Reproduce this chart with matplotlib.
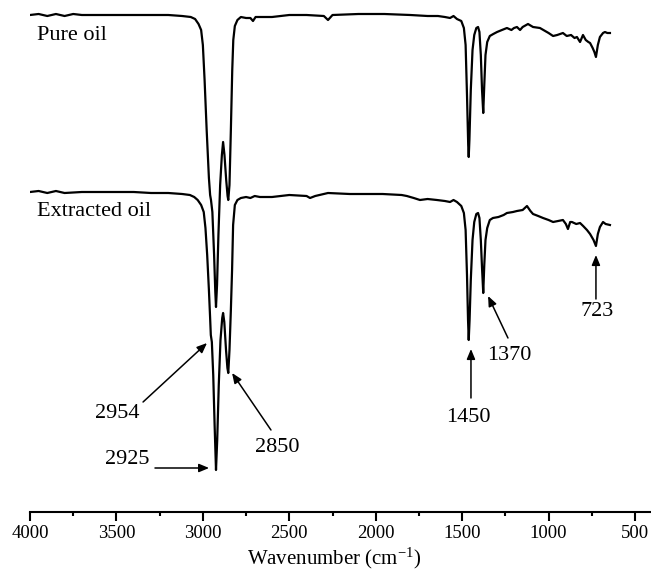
import matplotlib
matplotlib.use("Agg")
import matplotlib.pyplot as plt
from matplotlib.ticker import MultipleLocator

plt.rcParams["font.family"] = "serif"
plt.rcParams["font.serif"] = ["Liberation Serif", "DejaVu Serif"]
plt.rcParams["mathtext.fontset"] = "stix"

# FTIR spectra, transmittance in arbitrary units (traces are offset)
pure_wn = [4000, 3950, 3900, 3850, 3800, 3750, 3700, 3600, 3500, 3400, 3300, 3200,
           3120, 3070, 3045, 3025, 3010, 3000, 2990, 2978, 2965, 2958, 2953, 2945,
           2935, 2928, 2924, 2918, 2910, 2900, 2890, 2883, 2875, 2865, 2857, 2853,
           2846, 2838, 2830, 2824, 2815, 2800, 2780, 2750, 2725, 2710, 2695, 2600,
           2500, 2400, 2300, 2276, 2250, 2100, 1950, 1800, 1700, 1640, 1600, 1570,
           1550, 1530, 1505, 1490, 1480, 1472, 1465, 1462, 1458, 1450, 1440, 1430,
           1418, 1408, 1400, 1392, 1385, 1378, 1372, 1365, 1355, 1340, 1320, 1298,
           1270, 1241, 1215, 1200, 1183, 1165, 1150, 1119, 1090, 1050, 1020, 1000,
           974, 950, 917, 895, 870, 850, 836, 818, 801, 785, 770, 760, 745, 735,
           726, 715, 703, 685, 674, 660, 645]
pure_t = [497, 498, 496, 498, 496, 498, 497, 497, 497, 497, 497, 497,
          496, 495, 493, 488, 482, 467, 432, 382, 334, 317, 312, 300,
          257, 220, 205, 227, 277, 327, 357, 370, 357, 332, 316, 312,
          327, 382, 442, 472, 486, 492, 495, 494, 494, 491, 495, 495,
          497, 497, 496, 492, 497, 498, 498, 497, 496, 496, 495, 494,
          496, 493, 491, 484, 467, 417, 367, 355, 372, 422, 462, 477,
          484, 485, 480, 457, 422, 399, 427, 457, 470, 476, 478, 480,
          482, 484, 482, 484, 485, 482, 485, 488, 485, 484, 481, 479,
          476, 477, 479, 476, 477, 474, 475, 470, 477, 472, 470, 469, 464, 460,
          455, 467, 475, 479, 480, 479, 479]

extr_wn = [4000, 3950, 3900, 3850, 3800, 3700, 3600, 3500, 3400, 3300, 3200, 3120,
           3075, 3050, 3030, 3010, 2995, 2985, 2975, 2965, 2958, 2954, 2948, 2940,
           2932, 2924, 2917, 2908, 2898, 2888, 2883, 2876, 2866, 2858, 2853, 2846,
           2838, 2831, 2825, 2815, 2800, 2780, 2750, 2725, 2700, 2670, 2600, 2500,
           2400, 2380, 2350, 2276, 2150, 1960, 1850, 1820, 1780, 1744, 1700, 1646,
           1600, 1570, 1550, 1530, 1505, 1490, 1480, 1472, 1466, 1462, 1457, 1450,
           1440, 1430, 1418, 1408, 1400, 1392, 1385, 1378, 1372, 1365, 1355, 1340,
           1322, 1290, 1260, 1241, 1206, 1183, 1150, 1125, 1105, 1090, 1060, 1032,
           1000, 974, 945, 917, 900, 888, 875, 865, 840, 818, 800, 778, 760, 740,
           726, 715, 703, 685, 670, 645]
extr_t = [320, 321, 319, 321, 319, 320, 320, 320, 320, 319, 319, 318,
          317, 315, 312, 307, 300, 284, 257, 222, 194, 177, 170, 137,
          87, 42, 72, 127, 172, 194, 199, 190, 162, 144, 139, 162,
          202, 242, 287, 307, 312, 314, 315, 314, 316, 315, 315, 317,
          316, 314, 316, 319, 318, 318, 317, 316, 314, 312, 313, 312,
          311, 310, 312, 310, 306, 299, 282, 237, 192, 172, 192, 232,
          272, 290, 298, 299, 294, 272, 244, 219, 247, 272, 284, 292,
          294, 295, 297, 299, 300, 301, 302, 306, 301, 298, 296, 294,
          292, 290, 291, 292, 288, 283, 290, 290, 288, 289, 286, 282, 278, 272,
          266, 278, 285, 290, 288, 287]

peak_labels = ["2954", "2925", "2850", "1450", "1370", "723"]

fig = plt.figure(figsize=(6.51, 5.72), dpi=100)
ax = fig.add_axes([30 / 651, 60 / 572, 622.3 / 651, 512 / 572])

ax.plot(pure_wn, pure_t, color="black", lw=1.6)
ax.plot(extr_wn, extr_t, color="black", lw=1.6)

ax.set_xlim(4000, 400)
ax.set_ylim(0, 512)

ax.text(3960, 477, "Pure oil", fontsize=16, ha="left", va="center")
ax.text(3960, 301, "Extracted oil", fontsize=16, ha="left", va="center")

# label position, arrow start, arrow tip
spots = [
    ((3497, 99), (3346, 110), (2976, 169)),
    ((3439, 53), (3277, 44), (2964, 44)),
    ((2571, 65), (2606, 82), (2831, 139)),
    ((1466, 95), (1449, 114), (1449, 163)),
    ((1229, 157), (1235, 174), (1350, 216)),
    ((720, 200), (726, 213), (726, 257)),
]
for lab, (txt, start, tip) in zip(peak_labels, spots):
    ax.text(txt[0], txt[1], lab, fontsize=16, ha="center", va="center")
    ax.annotate("", xy=tip, xytext=start,
                arrowprops=dict(arrowstyle="-|>,head_length=0.6,head_width=0.25",
                                color="black", lw=1.1, mutation_scale=10,
                                shrinkA=0, shrinkB=0))

for s in ["top", "left", "right"]:
    ax.spines[s].set_visible(False)
ax.spines["bottom"].set_linewidth(1.5)
ax.set_yticks([])
ax.xaxis.set_major_locator(MultipleLocator(500))
ax.xaxis.set_minor_locator(MultipleLocator(250))
ax.tick_params(axis="x", which="major", direction="out", length=6.5, width=1.5,
               labelsize=13.5, pad=3)
ax.tick_params(axis="x", which="minor", direction="out", length=3.2, width=1.5)
ax.set_xlabel(r"Wavenumber (cm$^{\mathregular{-1}}$)", fontsize=15)
ax.xaxis.set_label_coords(0.49, -0.09)
ax.xaxis.label.set_va("center")
ax.patch.set_alpha(0)

fig.savefig("out.png", dpi=100)
